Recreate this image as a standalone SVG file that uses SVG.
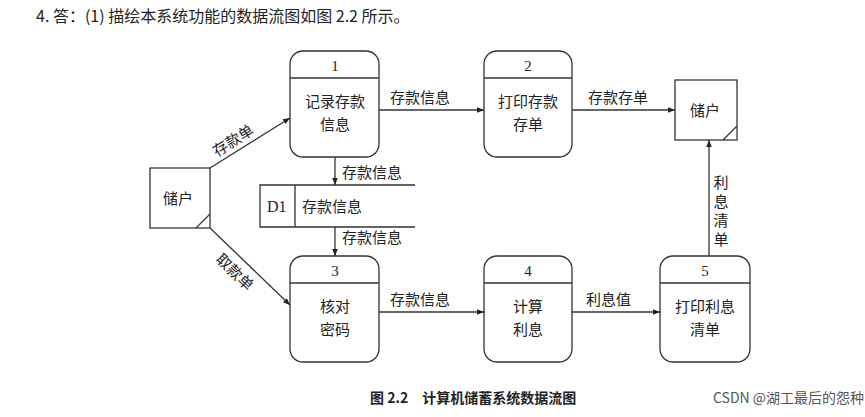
<svg xmlns="http://www.w3.org/2000/svg" width="865" height="417" viewBox="0 0 865 417">
<defs>
<marker id="a" viewBox="0 0 10 10" refX="10" refY="5" markerWidth="9" markerHeight="7" orient="auto" markerUnits="userSpaceOnUse"><path d="M0,1 L10,5 L0,9 z" fill="#222"/></marker>
<style>
text{font-family:"Noto Sans CJK SC","Liberation Serif",serif;fill:#222;font-size:15px}
.c{text-anchor:middle}
.b{fill:#fff;stroke:#333;stroke-width:1.3}
.l{stroke:#333;stroke-width:1.3;fill:none}
.f{stroke:#333;stroke-width:1.3;fill:none;marker-end:url(#a)}
</style>
</defs>
<rect width="865" height="417" fill="#fff"/>
<text x="36" y="22" style="font-size:16px">4. 答：(1) 描绘本系统功能的数据流图如图 2.2 所示。</text>
<g id="p1"><rect class="b" x="290" y="51" width="89" height="106" rx="13"/><line class="l" x1="290" y1="78" x2="379" y2="78"/><text class="c" x="335" y="71" style="font-family:'Liberation Serif'">1</text><text class="c" x="335" y="107">记录存款</text><text class="c" x="335" y="130">信息</text></g>
<g id="p2"><rect class="b" x="484" y="51" width="88" height="106" rx="13"/><line class="l" x1="484" y1="78" x2="572" y2="78"/><text class="c" x="528" y="71" style="font-family:'Liberation Serif'">2</text><text class="c" x="528" y="107">打印存款</text><text class="c" x="528" y="130">存单</text></g>
<g id="p3"><rect class="b" x="290" y="256" width="89" height="106" rx="13"/><line class="l" x1="290" y1="283" x2="379" y2="283"/><text class="c" x="335" y="276" style="font-family:'Liberation Serif'">3</text><text class="c" x="335" y="312">核对</text><text class="c" x="335" y="335">密码</text></g>
<g id="p4"><rect class="b" x="484" y="256" width="88" height="106" rx="13"/><line class="l" x1="484" y1="283" x2="572" y2="283"/><text class="c" x="528" y="276" style="font-family:'Liberation Serif'">4</text><text class="c" x="528" y="312">计算</text><text class="c" x="528" y="335">利息</text></g>
<g id="p5"><rect class="b" x="660" y="256" width="90" height="106" rx="13"/><line class="l" x1="660" y1="283" x2="750" y2="283"/><text class="c" x="705" y="276" style="font-family:'Liberation Serif'">5</text><text class="c" x="705" y="312">打印利息</text><text class="c" x="705" y="335">清单</text></g>
<g id="e1"><rect class="b" x="150" y="168" width="60" height="60"/><line class="l" x1="196" y1="228" x2="210" y2="214"/><text class="c" x="178" y="204">储户</text></g>
<g id="e2"><rect class="b" x="675" y="80" width="62" height="60"/><line class="l" x1="723" y1="140" x2="737" y2="126"/><text class="c" x="705" y="116">储户</text></g>
<g id="d1"><path class="l" d="M415,185 H260 V227 H415 M295,185 V227"/><text x="267" y="212" style="font-family:'Liberation Serif';font-size:16px">D1</text><text x="302" y="212">存款信息</text></g>
<g id="connectors">
<line class="f" x1="210" y1="168" x2="290" y2="118"/>
<line class="f" x1="210" y1="228" x2="290" y2="305"/>
<line class="f" x1="379" y1="110" x2="484" y2="110"/>
<line class="f" x1="572" y1="110" x2="675" y2="110"/>
<line class="f" x1="335" y1="157" x2="335" y2="185"/>
<line class="f" x1="335" y1="227" x2="335" y2="256"/>
<line class="f" x1="379" y1="312" x2="484" y2="312"/>
<line class="f" x1="572" y1="312" x2="660" y2="312"/>
<line class="f" x1="709" y1="256" x2="709" y2="140"/>
<text transform="translate(236,145) rotate(-32)" class="c">存款单</text>
<text transform="translate(231,276) rotate(44)" class="c">取款单</text>
<text x="390" y="103">存款信息</text>
<text x="588" y="103">存款存单</text>
<text x="342" y="178">存款信息</text>
<text x="342" y="243">存款信息</text>
<text x="390" y="305">存款信息</text>
<text x="586" y="305">利息值</text>
<text class="c" x="721" y="188">利</text><text class="c" x="721" y="207">息</text><text class="c" x="721" y="226">清</text><text class="c" x="721" y="245">单</text>
</g>
<text x="370" y="403" style="font-size:14px;font-weight:bold">图 2.2　计算机储蓄系统数据流图</text>
<text x="713" y="403" style="font-size:14px;fill:#555">CSDN @湖工最后的怨种</text>
</svg>
